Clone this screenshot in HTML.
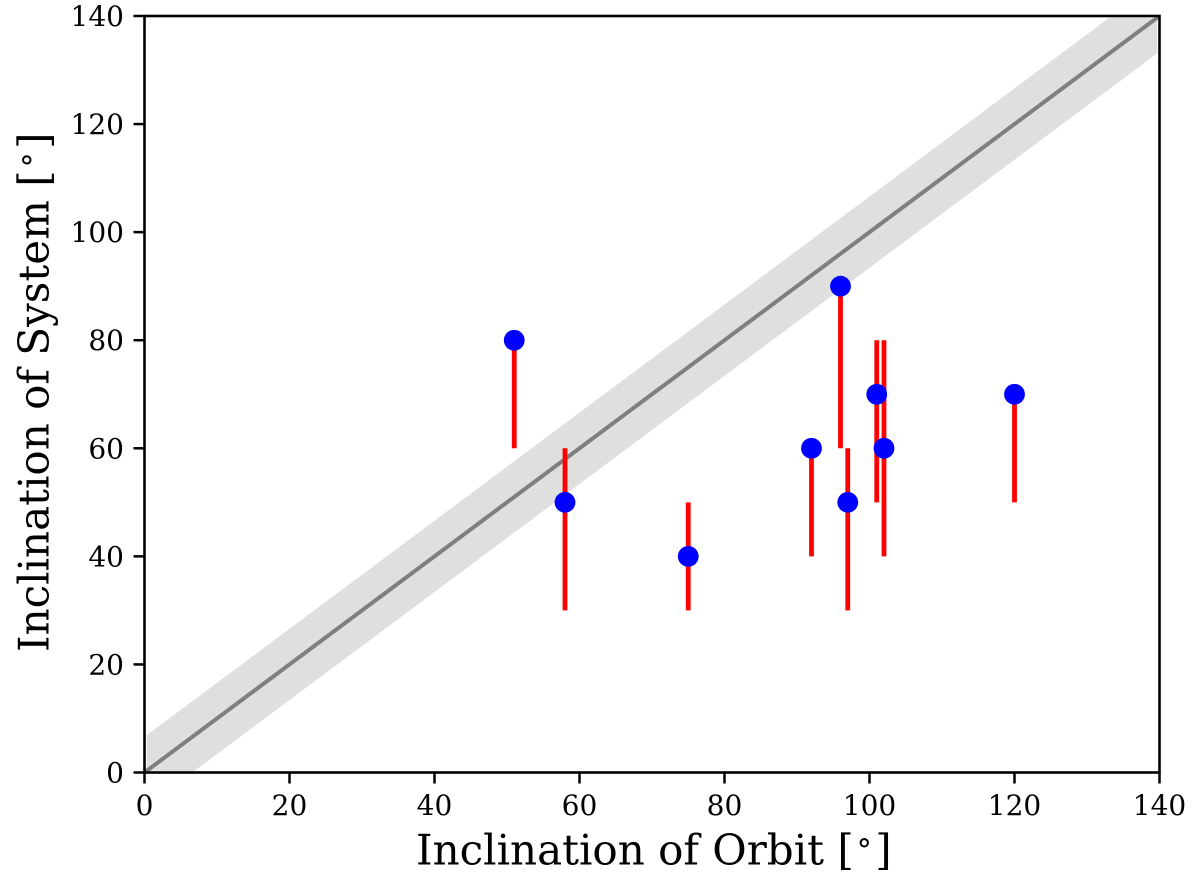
<!DOCTYPE html>
<html>
<head>
<meta charset="utf-8">
<title>Inclination chart</title>
<style>
html,body{margin:0;padding:0;background:#fff;width:1200px;height:885px;overflow:hidden}
svg{display:block}
text{font-family:"DejaVu Serif",serif;fill:#000}
</style>
</head>
<body>
<svg id="chart" width="1200" height="885" viewBox="0 0 1200 885" xmlns="http://www.w3.org/2000/svg">
<g id="band-layer"></g>
<g id="line-layer"></g>
<g id="err-layer"></g>
<g id="pt-layer"></g>
<g id="axis-layer"></g>
<text x="416" y="864.5" font-size="42">Inclination of Orbit [<tspan font-size="30" dy="-4" dx="3">°</tspan><tspan dy="4" dx="3.5">]</tspan></text>
<text transform="translate(48.5,652) rotate(-90)" font-size="42">Inclination of System [<tspan font-size="30" dy="-4" dx="3">°</tspan><tspan dy="4" dx="3.5">]</tspan></text>
</svg>
<script>
var orbitInclination = [51, 58, 75, 92, 96, 97, 101, 102, 120];
var systemInclination = [80, 50, 40, 60, 90, 50, 70, 60, 70];
var errorLow = [60, 30, 30, 40, 60, 30, 50, 40, 50];
var errorHigh = [80, 60, 50, 60, 90, 60, 80, 80, 70];
var tickLabels = [0, 20, 40, 60, 80, 100, 120, 140];
var axisMax = 140;
var bandHalfWidth = 6.6;

var NS = 'http://www.w3.org/2000/svg';
var left = 144.5, right = 1159.5, top_ = 16, bottom = 772.5;
function sx(v) { return left + (right - left) * v / axisMax; }
function sy(v) { return bottom - (bottom - top_) * v / axisMax; }
function mk(tag, attrs, parent) {
  var el = document.createElementNS(NS, tag);
  for (var k in attrs) el.setAttribute(k, attrs[k]);
  parent.appendChild(el);
  return el;
}
var bandLayer = document.getElementById('band-layer');
var lineLayer = document.getElementById('line-layer');
var errLayer = document.getElementById('err-layer');
var ptLayer = document.getElementById('pt-layer');
var axisLayer = document.getElementById('axis-layer');

var clip = 0.3;
var bandPts = [
  [clip, clip + bandHalfWidth],
  [axisMax - bandHalfWidth - clip, axisMax - clip],
  [axisMax - clip, axisMax - clip],
  [axisMax - clip, axisMax - clip - bandHalfWidth],
  [bandHalfWidth + clip, clip],
  [clip, clip]
];
var band = mk('polygon', {
  points: bandPts.map(function (p) { return sx(p[0]) + ',' + sy(p[1]); }).join(' '),
  fill: '#dfdfdf'
}, bandLayer);



var identity = mk('line', {
  x1: sx(0), y1: sy(0), x2: sx(axisMax), y2: sy(axisMax),
  stroke: '#7f7f7f', 'stroke-width': 4
}, lineLayer);



orbitInclination.forEach(function (x, i) {
  var bar = mk('line', {
    x1: sx(x), x2: sx(x), y1: sy(errorLow[i]), y2: sy(errorHigh[i]),
    stroke: '#ff0000', 'stroke-width': 4.8
  }, errLayer);
  
  
});
orbitInclination.forEach(function (x, i) {
  var pt = mk('circle', {
    cx: sx(x), cy: sy(systemInclination[i]), r: 10.4, fill: '#0000ff'
  }, ptLayer);
  
  
});

tickLabels.forEach(function (t) {
  var tx = mk('line', { x1: sx(t), x2: sx(t), y1: bottom, y2: bottom + 11, stroke: '#000', 'stroke-width': 2.5 }, axisLayer);
  
  
  var ty = mk('line', { x1: left, x2: left - 11, y1: sy(t), y2: sy(t), stroke: '#000', 'stroke-width': 2.5 }, axisLayer);
  
  
  var lx = mk('text', { x: sx(t), y: 815, 'font-size': 28, 'text-anchor': 'middle' }, axisLayer);
  lx.textContent = t;
  
  
  var ly = mk('text', { x: 124, y: sy(t) + 10, 'font-size': 28, 'text-anchor': 'end' }, axisLayer);
  ly.textContent = t;
  
  
});

var frame = mk('rect', {
  x: left, y: top_, width: right - left, height: bottom - top_,
  fill: 'none', stroke: '#000', 'stroke-width': 2.6
}, axisLayer);


</script>
</body>
</html>
